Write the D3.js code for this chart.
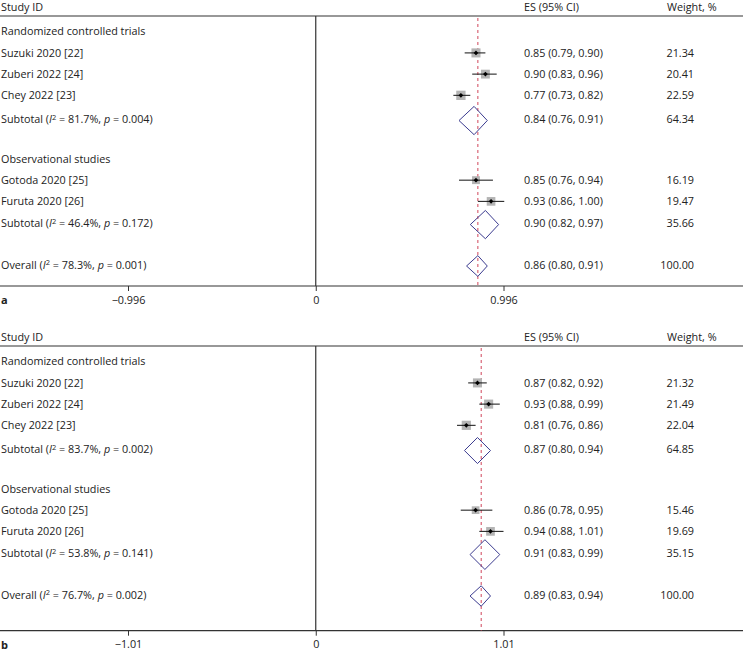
<!DOCTYPE html>
<html>
<head>
<meta charset="utf-8">
<script src="https://cdn.jsdelivr.net/npm/d3@7"></script>
<style>
  body { margin: 0; background: #fff; }
  svg text { font-family: 'Open Sans', 'Noto Sans', sans-serif; font-size: 10.8px; fill: #222; }
</style>
</head>
<body>
<div id="chart"></div>
<script>
// Studies and groups
const studies = ['Suzuki 2020 [22]', 'Zuberi 2022 [24]', 'Chey 2022 [23]', 'Gotoda 2020 [25]', 'Furuta 2020 [26]'];
const studyGroup = [0, 0, 0, 1, 1];
const groups = ['Randomized controlled trials', 'Observational studies'];

// Panel a
const esA = [0.85, 0.90, 0.77, 0.85, 0.93];
const loA = [0.79, 0.83, 0.73, 0.76, 0.86];
const hiA = [0.90, 0.96, 0.82, 0.94, 1.00];
const wA = [21.34, 20.41, 22.59, 16.19, 19.47];
const subEsA = [0.84, 0.90];
const subLoA = [0.76, 0.82];
const subHiA = [0.91, 0.97];
const subWA = [64.34, 35.66];
const subI2A = ['81.7', '46.4'];
const subPA = ['0.004', '0.172'];
const overallA = [0.86, 0.80, 0.91];
const overallI2A = '78.3';
const overallPA = '0.001';
const ticksA = [-0.996, 0, 0.996];

// Panel b
const esB = [0.87, 0.93, 0.81, 0.86, 0.94];
const loB = [0.82, 0.88, 0.76, 0.78, 0.88];
const hiB = [0.92, 0.99, 0.86, 0.95, 1.01];
const wB = [21.32, 21.49, 22.04, 15.46, 19.69];
const subEsB = [0.87, 0.91];
const subLoB = [0.80, 0.83];
const subHiB = [0.94, 0.99];
const subWB = [64.85, 35.15];
const subI2B = ['83.7', '53.8'];
const subPB = ['0.002', '0.141'];
const overallB = [0.89, 0.83, 0.94];
const overallI2B = '76.7';
const overallPB = '0.002';
const ticksB = [-1.01, 0, 1.01];

const W = 743, H = 654;
const svg = d3.select('#chart').append('svg')
  .attr('width', W)
  .attr('height', H);

const fmt2 = d3.format('.2f');
const minus = s => s.replace('-', '\u2013');
const boxSize = d3.scaleSqrt().domain([0, 25]).range([0, 9.8]);

function drawPanel(opt) {
  const g = svg.append('g').attr('transform', 'translate(0,' + opt.top + ')');
  const tmax = opt.ticks[opt.ticks.length - 1];
  const x = d3.scaleLinear().domain([-tmax, tmax]).range([128, 503.5]);
  // row index -> y
  const y = d3.scaleLinear().domain([0, 11]).range([31.7, 265]);
  const headerY = 16;
  const axisY = opt.axisY;
  const esX = 524, wX = 694;

  // header
  g.append('text').attr('x', 1).attr('y', headerY - 5).text('Study ID');
  g.append('text').attr('x', esX).attr('y', headerY - 5).text('ES (95% CI)');
  g.append('text').attr('x', 667).attr('y', headerY - 5).text('Weight, %');
  g.append('line')
    .attr('x1', 0).attr('x2', W)
    .attr('y1', headerY).attr('y2', headerY)
    .attr('stroke', '#333').attr('stroke-width', 1.2);

  // axis
  g.append('line')
    .attr('x1', 0).attr('x2', W)
    .attr('y1', axisY).attr('y2', axisY)
    .attr('stroke', '#333').attr('stroke-width', 1.2);
  const axis = d3.axisBottom(x)
    .tickValues(opt.ticks)
    .tickSize(5)
    .tickFormat(d => d === 0 ? '0' : minus(opt.tickFmt(d)));
  const ax = g.append('g')
    .attr('transform', 'translate(0,' + axisY + ')')
    .call(axis);
  ax.select('.domain').remove();
  ax.selectAll('.tick line').attr('stroke', '#333');
  ax.selectAll('.tick text').attr('y', 14).attr('dy', '0.35em')
    .style('font-size', '10.8px').attr('fill', '#222');
  g.append('text').attr('x', 1).attr('y', axisY + 14).attr('dy', '0.35em')
    .style('font-weight', 'bold').style('font-size', '11px').text(opt.label);

  // null line
  g.append('line')
    .attr('x1', x(0)).attr('x2', x(0))
    .attr('y1', headerY).attr('y2', axisY)
    .attr('stroke', '#333').attr('stroke-width', 1.2);

  // overall dashed line
  g.append('line')
    .attr('x1', x(opt.overall[0])).attr('x2', x(opt.overall[0]))
    .attr('y1', headerY + 2).attr('y2', axisY)
    .attr('stroke', '#d0455a').attr('stroke-width', 1)
    .attr('stroke-dasharray', '3,3');

  function statText(sel, label, i2, p) {
    sel.append('tspan').text(label + ' (');
    sel.append('tspan').style('font-style', 'italic').text('I');
    sel.append('tspan').attr('dy', -3.8).style('font-size', '7.5px').text('2');
    sel.append('tspan').attr('dy', 3.8).text(' = ' + i2 + '%, ');
    sel.append('tspan').style('font-style', 'italic').text('p');
    sel.append('tspan').text(' = ' + p + ')');
  }

  function diamond(cx, lo, hi, cy) {
    const h = (x(hi) - x(lo)) / 2;
    g.append('path')
      .attr('d', 'M' + x(lo) + ',' + cy + 'L' + x(cx) + ',' + (cy - h) + 'L' + x(hi) + ',' + cy + 'L' + x(cx) + ',' + (cy + h) + 'Z')
      .attr('fill', 'none')
      .attr('stroke', '#3b3b8f')
      .attr('stroke-width', 1);
  }

  let row = 0;
  groups.forEach((grp, gi) => {
    g.append('text').attr('x', 1).attr('y', y(row)).attr('dy', '0.35em').text(grp);
    row++;
    studies.forEach((s, i) => {
      if (studyGroup[i] !== gi) return;
      const cy = y(row);
      g.append('text').attr('x', 1).attr('y', cy).attr('dy', '0.35em').text(s);
      const bs = boxSize(opt.w[i]);
      g.append('rect')
        .attr('x', x(opt.es[i]) - bs / 2).attr('y', cy - bs / 2)
        .attr('width', bs).attr('height', bs)
        .attr('fill', '#b4b4b4');
      g.append('line')
        .attr('x1', x(opt.lo[i])).attr('x2', x(opt.hi[i]))
        .attr('y1', cy).attr('y2', cy)
        .attr('stroke', '#111').attr('stroke-width', 1);
      g.append('path')
        .attr('d', d3.symbol(d3.symbolDiamond2, 14)())
        .attr('transform', 'translate(' + x(opt.es[i]) + ',' + cy + ')')
        .attr('fill', '#000');
      g.append('text').attr('x', esX).attr('y', cy).attr('dy', '0.35em')
        .text(fmt2(opt.es[i]) + ' (' + fmt2(opt.lo[i]) + ', ' + fmt2(opt.hi[i]) + ')');
      g.append('text').attr('x', wX).attr('y', cy).attr('dy', '0.35em')
        .attr('text-anchor', 'end').text(fmt2(opt.w[i]));
      row++;
    });
    const cy = y(row) + (gi === 0 ? 3 : 1);
    statText(g.append('text').attr('x', 1).attr('y', cy).attr('dy', '0.35em'), 'Subtotal', opt.subI2[gi], opt.subP[gi]);
    diamond(opt.subEs[gi], opt.subLo[gi], opt.subHi[gi], cy + 1);
    g.append('text').attr('x', esX).attr('y', cy).attr('dy', '0.35em')
      .text(fmt2(opt.subEs[gi]) + ' (' + fmt2(opt.subLo[gi]) + ', ' + fmt2(opt.subHi[gi]) + ')');
    g.append('text').attr('x', wX).attr('y', cy).attr('dy', '0.35em')
      .attr('text-anchor', 'end').text(fmt2(opt.subW[gi]));
    row += 2;
  });

  // overall
  const oy = y(row);
  statText(g.append('text').attr('x', 1).attr('y', oy).attr('dy', '0.35em'), 'Overall', opt.overallI2, opt.overallP);
  diamond(opt.overall[0], opt.overall[1], opt.overall[2], oy + 1);
  g.append('text').attr('x', esX).attr('y', oy).attr('dy', '0.35em')
    .text(fmt2(opt.overall[0]) + ' (' + fmt2(opt.overall[1]) + ', ' + fmt2(opt.overall[2]) + ')');
  g.append('text').attr('x', wX).attr('y', oy).attr('dy', '0.35em')
    .attr('text-anchor', 'end').text('100.00');
}

drawPanel({
  top: 0, axisY: 286, label: 'a', ticks: ticksA, tickFmt: d3.format('.3f'),
  es: esA, lo: loA, hi: hiA, w: wA,
  subEs: subEsA, subLo: subLoA, subHi: subHiA, subW: subWA, subI2: subI2A, subP: subPA,
  overall: overallA, overallI2: overallI2A, overallP: overallPA
});
drawPanel({
  top: 330, axisY: 300.7, label: 'b', ticks: ticksB, tickFmt: d3.format('.2f'),
  es: esB, lo: loB, hi: hiB, w: wB,
  subEs: subEsB, subLo: subLoB, subHi: subHiB, subW: subWB, subI2: subI2B, subP: subPB,
  overall: overallB, overallI2: overallI2B, overallP: overallPB
});
</script>
</body>
</html>
